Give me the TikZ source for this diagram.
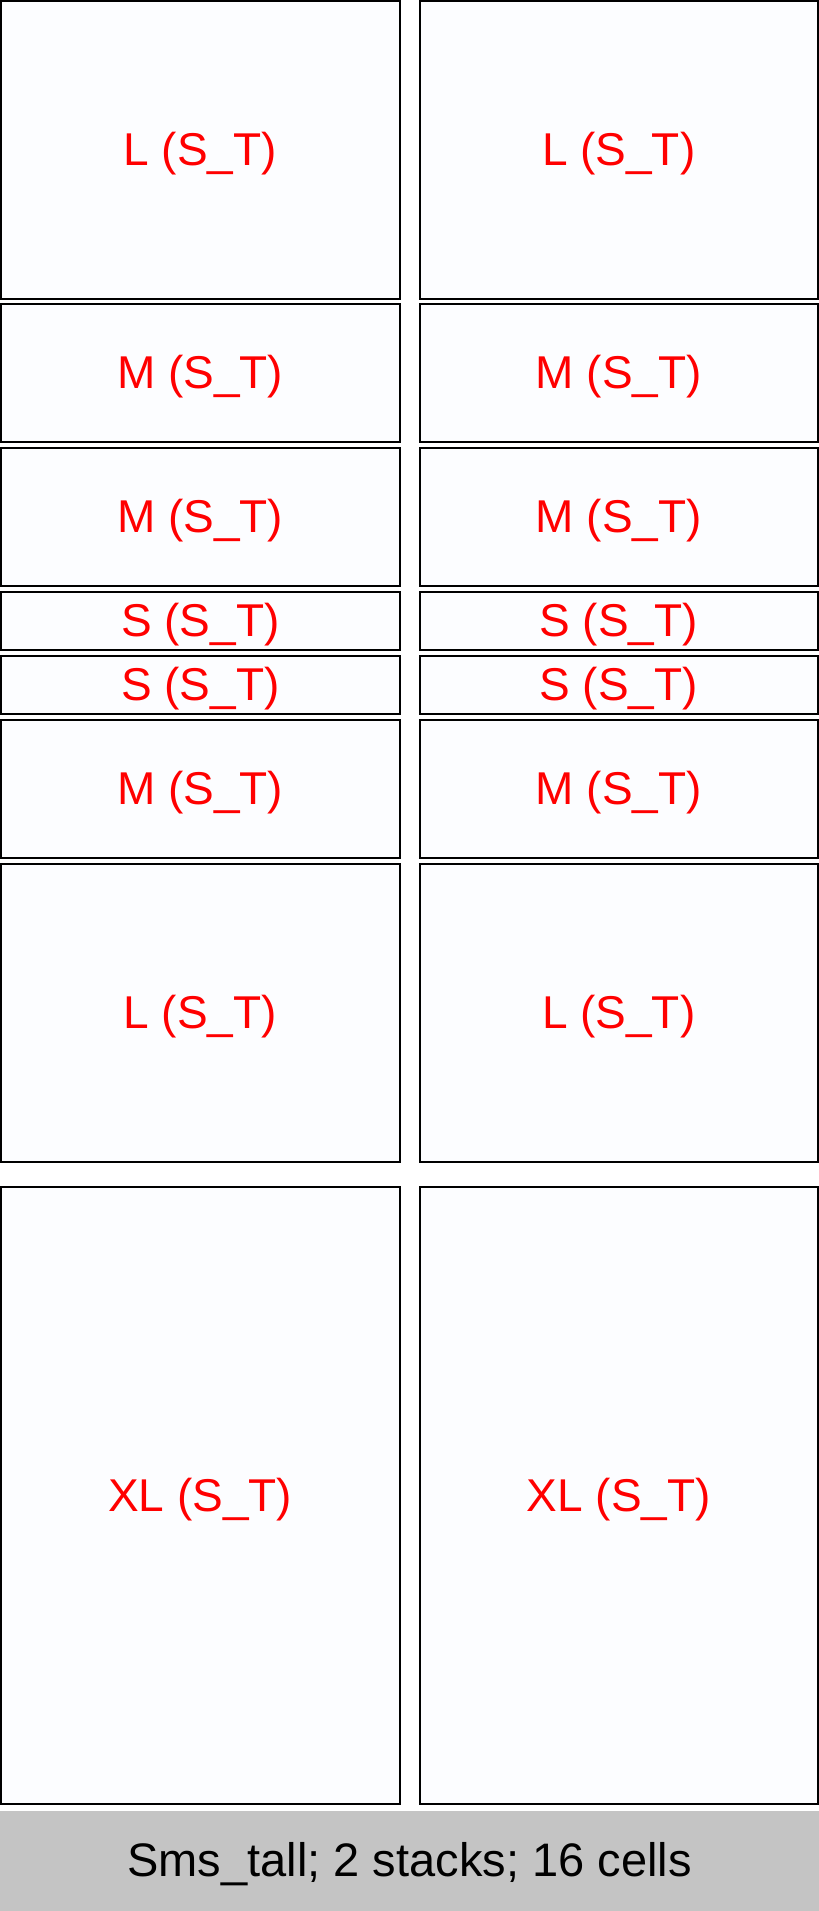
\documentclass[tikz,border=0pt]{standalone}
\usepackage{fontspec}
\setmainfont{Liberation Sans}
\usetikzlibrary{positioning}
\definecolor{cellfill}{HTML}{FCFDFF}
\definecolor{barfill}{HTML}{C4C4C4}

\begin{document}
\begin{tikzpicture}[x=1pt,y=-1pt,
        cell/.style={draw=black,line width=2pt,fill=cellfill,text=red,
            font=\fontsize{46}{46}\selectfont,inner sep=0pt,outer sep=0pt,
            text height=40pt,text depth=9pt,
            minimum width=398.5pt,anchor=north west},
        cellS/.style={cell,minimum height=58pt},
        cellM/.style={cell,minimum height=138pt},
        cellL/.style={cell,minimum height=298pt},
        cellXL/.style={cell,minimum height=617pt}]
    \useasboundingbox (0,0) rectangle (819,1911);

    % left stack
    \node[cellL]  (l1) at (1,1)      {L (S\_T)};
    \node[cellM]  (l2) at (1,304)    {M (S\_T)};
    \node[cellM]  (l3) at (1,448)    {M (S\_T)};
    \node[cellS]  (l4) at (1,592)    {S (S\_T)};
    \node[cellS]  (l5) at (1,656)    {S (S\_T)};
    \node[cellM]  (l6) at (1,720)    {M (S\_T)};
    \node[cellL]  (l7) at (1,864)    {L (S\_T)};
    \node[cellXL] (l8) at (1,1187)   {XL (S\_T)};

    % right stack
    \node[cellL]  (r1) at (419.5,1)    {L (S\_T)};
    \node[cellM]  (r2) at (419.5,304)  {M (S\_T)};
    \node[cellM]  (r3) at (419.5,448)  {M (S\_T)};
    \node[cellS]  (r4) at (419.5,592)  {S (S\_T)};
    \node[cellS]  (r5) at (419.5,656)  {S (S\_T)};
    \node[cellM]  (r6) at (419.5,720)  {M (S\_T)};
    \node[cellL]  (r7) at (419.5,864)  {L (S\_T)};
    \node[cellXL] (r8) at (419.5,1187) {XL (S\_T)};

    % caption bar
    \node[fill=barfill,inner sep=0pt,outer sep=0pt,anchor=north west,
          minimum width=819pt,minimum height=100.3pt,
          text height=40pt,text depth=9pt,
          font=\fontsize{47}{47}\selectfont] (caption) at (0,1810.7)
          {Sms\_tall; 2 stacks; 16 cells};
\end{tikzpicture}
\end{document}
